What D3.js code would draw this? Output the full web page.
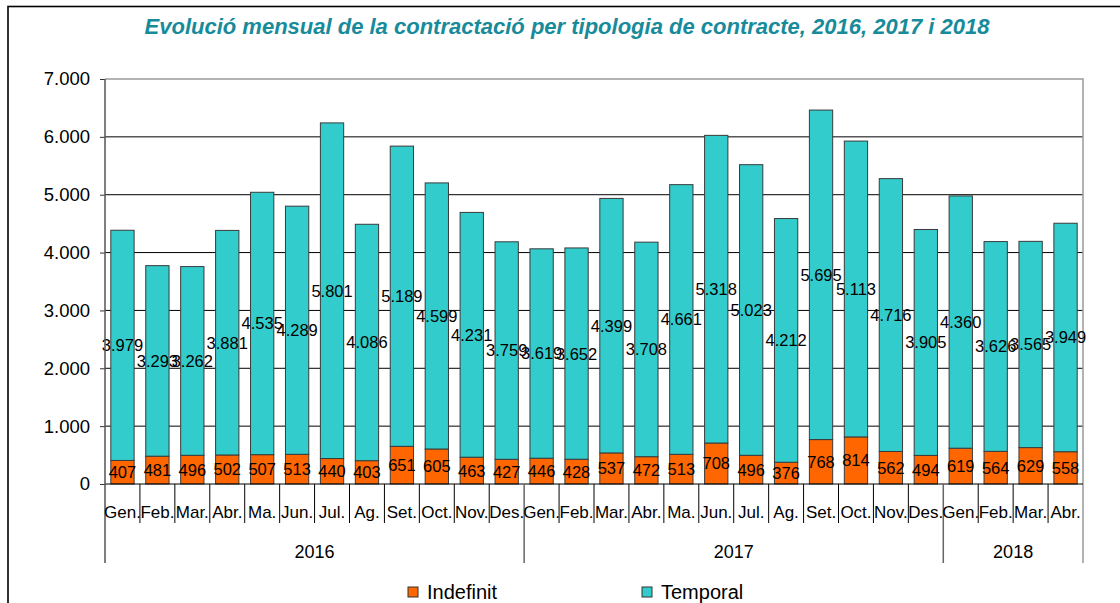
<!DOCTYPE html>
<html>
<head>
<meta charset="utf-8">
<script src="https://cdn.jsdelivr.net/npm/d3@7"></script>
<style>
  body { margin: 0; background: #fff; }
  svg text { font-family: "Liberation Sans", Arial, sans-serif; }
</style>
</head>
<body>
<svg id="chart" width="1120" height="603"></svg>
<script>
// Chart data
const monthNames = ['Gen.', 'Feb.', 'Mar.', 'Abr.', 'Ma.', 'Jun.', 'Jul.', 'Ag.', 'Set.', 'Oct.', 'Nov.', 'Des.'];
const years = ['2016', '2017', '2018'];
const monthsPerYear = [12, 12, 4];

const indefinit = [
  407, 481, 496, 502, 507, 513, 440, 403, 651, 605, 463, 427,
  446, 428, 537, 472, 513, 708, 496, 376, 768, 814, 562, 494,
  619, 564, 629, 558
];
const temporal = [
  3979, 3293, 3262, 3881, 4535, 4289, 5801, 4086, 5189, 4599, 4231, 3759,
  3619, 3652, 4399, 3708, 4661, 5318, 5023, 4212, 5695, 5113, 4716, 3905,
  4360, 3626, 3565, 3949
];
const yTicks = [0, 1000, 2000, 3000, 4000, 5000, 6000, 7000];
const chartTitle = 'Evolució mensual de la contractació per tipologia de contracte, 2016, 2017 i 2018';

// Build the categories (year + month)
const categories = [];
years.forEach((y, i) => {
  for (let m = 0; m < monthsPerYear[i]; m++) {
    categories.push({ key: y + '-' + m, year: y, month: monthNames[m] });
  }
});
const rows = categories.map((c, i) => ({ ...c, indefinit: indefinit[i], temporal: temporal[i] }));

const svg = d3.select('#chart');
const plotLeft = 105, plotRight = 1083, plotTop = 79, plotBottom = 484;

const fmt = d3.formatLocale({ decimal: ',', thousands: '.', grouping: [3], currency: ['', ' €'] }).format(',d');

// Outer frame
svg.append('rect')
  .attr('x', 8).attr('y', 6.5)
  .attr('width', 1130).attr('height', 620)
  .style('fill', 'none').style('stroke', '#000').style('stroke-width', 1.6);

// Title
svg.append('text')
  .attr('x', 567).attr('y', 34)
  .style('text-anchor', 'middle')
  .style('font-size', '22px').style('font-weight', 'bold').style('font-style', 'italic')
  .style('fill', '#188b9b')
  .text(chartTitle);

// Scales
const xSlot = d3.scaleBand().domain(categories.map(d => d.key)).range([plotLeft, plotRight]).padding(0);
const xBar = d3.scaleBand().domain(categories.map(d => d.key)).range([plotLeft, plotRight])
  .paddingInner(0.333).paddingOuter(0.1665);
const yScale = d3.scaleLinear().domain([0, 7000]).range([plotBottom, plotTop]);

// Gridlines
svg.append('g').selectAll('line')
  .data(yTicks.filter(t => t > 0 && t < 7000))
  .join('line')
  .attr('x1', plotLeft).attr('x2', plotRight)
  .attr('y1', d => yScale(d)).attr('y2', d => yScale(d))
  .style('stroke', '#000').style('stroke-width', 1);

// Plot border (gray)
svg.append('path')
  .attr('d', `M${plotLeft},${plotTop}H${plotRight}V563`)
  .style('fill', 'none').style('stroke', '#9a9a9a').style('stroke-width', 1.5);

// Stacked bars
const stack = d3.stack().keys(['indefinit', 'temporal'])(rows);
const colors = { indefinit: '#ff6600', temporal: '#33cccc' };

svg.append('g').selectAll('g')
  .data(stack)
  .join('g')
  .style('fill', d => colors[d.key])
  .selectAll('rect')
  .data(d => d)
  .join('rect')
  .attr('x', d => xBar(d.data.key))
  .attr('width', xBar.bandwidth())
  .attr('y', d => yScale(d[1]))
  .attr('height', d => yScale(d[0]) - yScale(d[1]))
  .style('stroke', '#3a3a3a').style('stroke-width', 1);

// Value labels
svg.append('g').selectAll('g')
  .data(stack)
  .join('g')
  .selectAll('text')
  .data(d => d)
  .join('text')
  .attr('x', d => xBar(d.data.key) + xBar.bandwidth() / 2)
  .attr('y', d => yScale((d[0] + d[1]) / 2))
  .attr('dy', '0.36em')
  .style('text-anchor', 'middle')
  .style('font-size', '16.5px')
  .style('fill', '#000')
  .text(d => fmt(d[1] - d[0]));

// Y axis
const yAxis = svg.append('g')
  .attr('transform', `translate(${plotLeft},0)`)
  .call(d3.axisLeft(yScale).tickValues(yTicks).tickSize(5).tickPadding(10).tickFormat(fmt));
yAxis.select('.domain').remove();
yAxis.selectAll('.tick line').style('stroke', '#333');
yAxis.selectAll('.tick text').style('font-size', '18.5px').style('font-family', '"Liberation Sans", Arial, sans-serif').style('fill', '#000');

// Baseline and left axis line
svg.append('line')
  .attr('x1', plotLeft).attr('x2', plotRight).attr('y1', plotBottom).attr('y2', plotBottom)
  .style('stroke', '#000').style('stroke-width', 1.2);
svg.append('line')
  .attr('x1', plotLeft).attr('x2', plotLeft).attr('y1', plotTop).attr('y2', 563)
  .style('stroke', '#555').style('stroke-width', 1.5);

// Category separators
svg.append('g').selectAll('line')
  .data(categories.slice(1))
  .join('line')
  .attr('x1', d => xSlot(d.key)).attr('x2', d => xSlot(d.key))
  .attr('y1', plotBottom).attr('y2', d => d.month === monthNames[0] ? 563 : 523)
  .style('stroke', d => d.month === monthNames[0] ? '#666' : '#000')
  .style('stroke-width', d => d.month === monthNames[0] ? 1.5 : 1);

// Month labels
svg.append('g').selectAll('text')
  .data(categories)
  .join('text')
  .attr('x', d => xSlot(d.key) + xSlot.bandwidth() / 2)
  .attr('y', 518)
  .style('text-anchor', 'middle')
  .style('font-size', '17px')
  .text(d => d.month);

// Year labels
const yearGroups = years.map(y => {
  const ks = categories.filter(c => c.year === y);
  return { year: y, x0: xSlot(ks[0].key), x1: xSlot(ks[ks.length - 1].key) + xSlot.bandwidth() };
});
svg.append('g').selectAll('text')
  .data(yearGroups)
  .join('text')
  .attr('x', d => (d.x0 + d.x1) / 2)
  .attr('y', 558)
  .style('text-anchor', 'middle')
  .style('font-size', '18px')
  .text(d => d.year);

// Legend
const legendItems = [
  { key: 'indefinit', label: 'Indefinit', x: 408 },
  { key: 'temporal', label: 'Temporal', x: 642 }
];
const legend = svg.append('g').selectAll('g')
  .data(legendItems)
  .join('g')
  .attr('transform', d => `translate(${d.x},587)`);
legend.append('rect')
  .attr('width', 10).attr('height', 10)
  .style('fill', d => colors[d.key])
  .style('stroke', '#333').style('stroke-width', 1);
legend.append('text')
  .attr('x', 19).attr('y', 5).attr('dy', '0.36em')
  .style('font-size', '20px')
  .text(d => d.label);
</script>
</body>
</html>
